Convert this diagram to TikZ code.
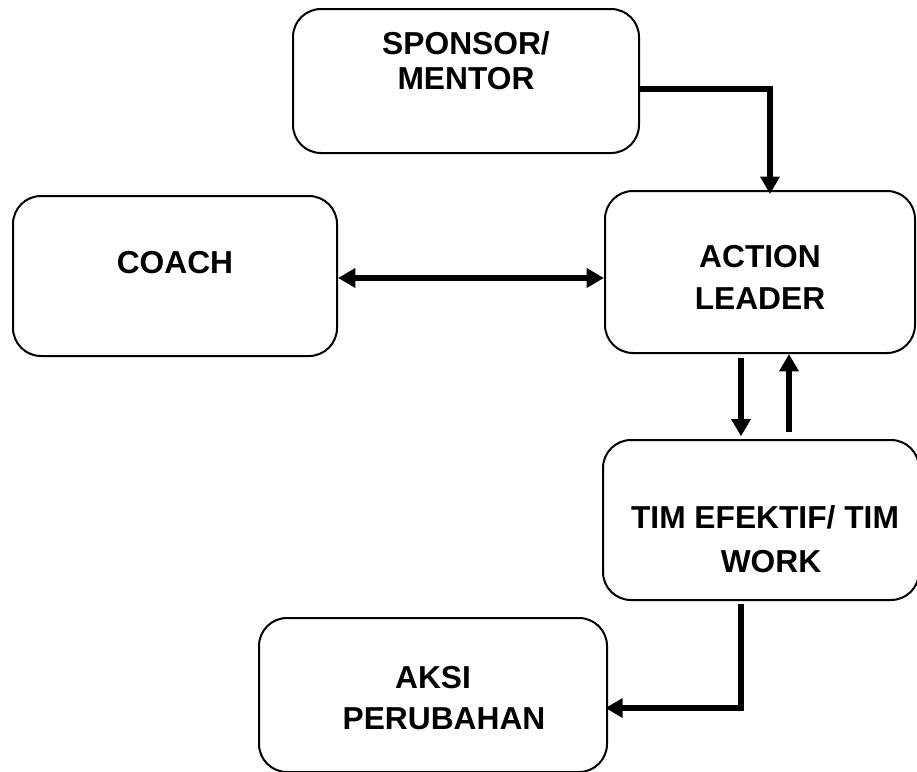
\documentclass[tikz,border=0pt]{standalone}
\usepackage{fontspec}
\setmainfont{Liberation Sans}
\usetikzlibrary{arrows.meta}
\begin{document}
\begin{tikzpicture}[x=0.75pt,y=-0.75pt,
  box/.style={draw, line width=1.5pt, rounded corners=21pt, inner sep=0pt},
  txt/.style={anchor=base, inner sep=0pt, font=\fontsize{23.8pt}{28pt}\selectfont\bfseries},
  tip/.tip={Triangle[width=14pt,length=13pt]},
  conn/.style={line width=3.8pt, -tip},
  both/.style={line width=3.8pt, tip-tip}]
\useasboundingbox (0,0) rectangle (917,771);

% boxes
\node[box, minimum width=259.5pt, minimum height=108pt] (sponsor) at (466,81) {};
\node[box, minimum width=243pt, minimum height=120pt] (coach) at (175,276) {};
\node[box, minimum width=232.5pt, minimum height=121.5pt] (action) at (760,272) {};
\node[box, minimum width=237pt, minimum height=120pt] (tim) at (761,520) {};
\node[box, minimum width=261pt, minimum height=115.5pt] (aksi) at (433,695) {};

% labels
\node[txt] (sponsor-a) at (466,54) {SPONSOR/};
\node[txt] (sponsor-b) at (466,89) {MENTOR};
\node[txt] (coach-a) at (175,273) {COACH};
\node[txt] (action-a) at (760,267) {ACTION};
\node[txt] (action-b) at (760,309) {LEADER};
\node[txt] (tim-a) at (765,528) {TIM EFEKTIF/ TIM};
\node[txt] (tim-b) at (771,572) {WORK};
\node[txt] (aksi-a) at (433,688) {AKSI};
\node[txt] (aksi-b) at (444,729) {PERUBAHAN};

% connectors
\draw[conn] ([yshift=-6pt]sponsor.east) -| ([xshift=7.5pt,yshift=-3pt]action.north);
\draw[both] ([yshift=-1.5pt]coach.east) -- ([yshift=-1.5pt]coach.east -| action.west);
\draw[conn] ([xshift=-14.25pt,yshift=-3pt]action.south) -- ([xshift=-14.25pt,yshift=2pt]tim.north -| action.south);
\draw[conn] ([xshift=21.75pt,yshift=5pt]tim.north -| action.south) -- ([xshift=21.75pt]action.south);
\draw[conn] ([xshift=-15pt,yshift=-2pt]tim.south) |- ([xshift=-2pt,yshift=-9.75pt]aksi.east);
\end{tikzpicture}
\end{document}
